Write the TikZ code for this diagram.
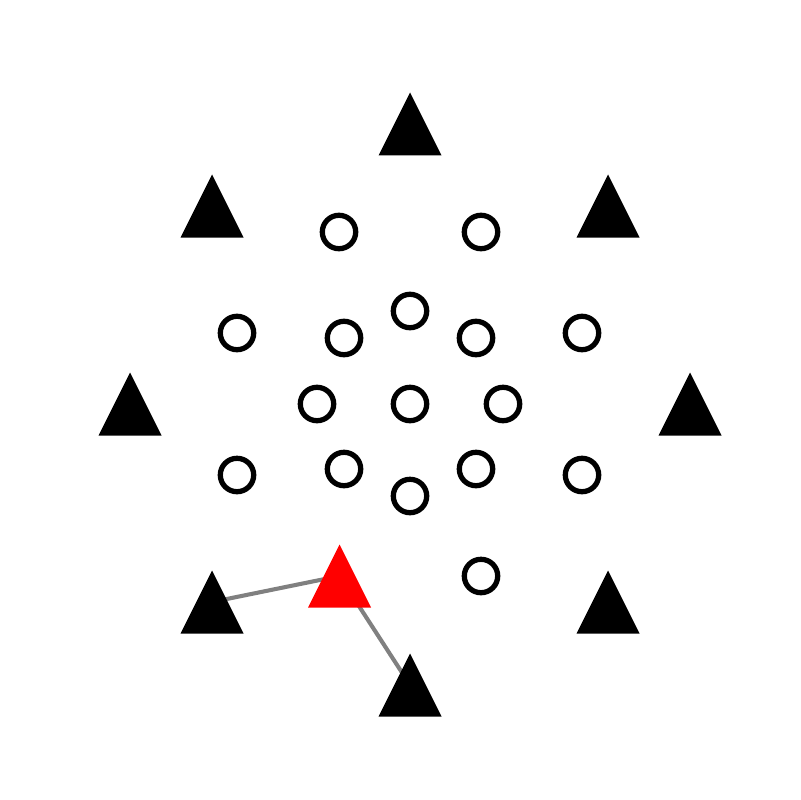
\documentclass[tikz,border=0pt]{standalone}
\usepackage{tikz}
\usetikzlibrary{positioning}

\begin{document}
\begin{tikzpicture}[
    x=0.025cm, y=-0.025cm,
    site/.style={circle, draw=black, line width=3.75pt, fill=white, minimum size=0.835cm, inner sep=0pt},
    link/.style={draw=gray, line width=2.9pt},
    tri/.pic={\fill[pic actions] (0,-31.5) -- (31.5,31.5) -- (-31.5,31.5) -- cycle;},
  ]
    \useasboundingbox (0,0) rectangle (800,800);

    % Outer ring of stations
    \coordinate (tN)  at (410,124);
    \coordinate (tNW) at (212,206);
    \coordinate (tNE) at (608,206);
    \coordinate (tW)  at (130,404);
    \coordinate (tE)  at (690,404);
    \coordinate (tSW) at (212,602);
    \coordinate (tSE) at (608,602);
    \coordinate (tS)  at (410,685);
    \coordinate (src) at (339.5,576);

    % Links to the active station
    \draw[link] (tSW) -- (src);
    \draw[link] (src) -- (tS);

    % Grid points
    \node[site] (c1)  at (339,232) {};
    \node[site] (c2)  at (481,232) {};
    \node[site] (c3)  at (237,333) {};
    \node[site] (c4)  at (344,338) {};
    \node[site] (c5)  at (410,311) {};
    \node[site] (c6)  at (476,338) {};
    \node[site] (c7)  at (582,333) {};
    \node[site] (c8)  at (317,404) {};
    \node[site] (c9)  at (410,404) {};
    \node[site] (c10) at (503,404) {};
    \node[site] (c11) at (237,475) {};
    \node[site] (c12) at (344,469) {};
    \node[site] (c13) at (410,496) {};
    \node[site] (c14) at (476,469) {};
    \node[site] (c15) at (582,475) {};
    \node[site] (c16) at (481,576) {};

    % Stations
    \foreach \t in {tN, tNW, tNE, tW, tE, tSW, tSE, tS}
      \pic[fill=black] at (\t) {tri};
    \pic[fill=red] at (src) {tri};
  \end{tikzpicture}
\end{document}
